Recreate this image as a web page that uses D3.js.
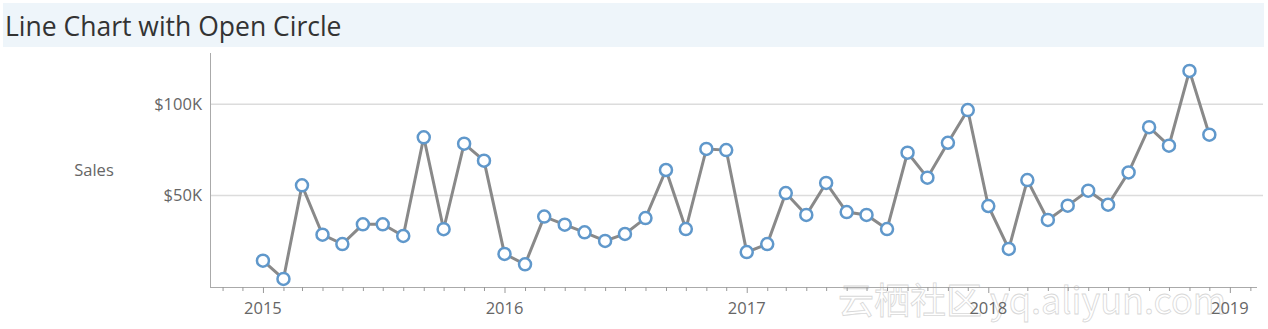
<!DOCTYPE html>
<html>
<head>
  <meta charset="utf-8">
  <title>Line Chart with Open Circle</title>
  <style>
    body { margin: 0; background: #fff; }
    svg { display: block; font-family: "Open Sans", "Noto Sans", sans-serif; }
  </style>
</head>
<body>
  <svg width="1268" height="329"></svg>
  <script src="https://d3js.org/d3.v7.min.js"></script>
  <script>
    // monthly sales, in thousands of dollars
    var years = [2015, 2016, 2017, 2018];
    var sales2015 = [14.4, 4.4, 55.6, 28.6, 23.5, 34.3, 34.3, 27.9, 81.9, 31.6, 78.4, 69.1];
    var sales2016 = [18.1, 12.4, 38.5, 34.1, 29.9, 25.2, 29.0, 37.7, 64.0, 31.7, 75.5, 74.9];
    var sales2017 = [19.1, 23.5, 51.4, 39.4, 56.9, 41.0, 39.4, 31.7, 73.5, 59.8, 78.9, 96.8];
    var sales2018 = [44.3, 20.8, 58.5, 36.7, 44.5, 52.7, 45.0, 62.7, 87.4, 77.3, 118.2, 83.3];
    var yTicks = [50000, 100000];
    var xYearTicks = [2015, 2016, 2017, 2018, 2019];

    var data = [];
    [sales2015, sales2016, sales2017, sales2018].forEach(function (arr, yi) {
      arr.forEach(function (v, m) {
        data.push({ date: new Date(years[yi], m, 1), value: v * 1000 });
      });
    });

    var svg = d3.select("svg");

    // title band
    svg.append("rect")
      .attr("x", 3).attr("y", 3)
      .attr("width", 1261).attr("height", 44)
      .attr("fill", "#eef5fa");
    svg.append("text")
      .attr("x", 5).attr("y", 36)
      .attr("font-size", 26.5)
      .attr("fill", "#333")
      .text("Line Chart with Open Circle");

    var x = d3.scaleTime()
      .domain([new Date(2014, 9, 13), new Date(2019, 1, 8)])
      .range([210, 1255]);
    var y = d3.scaleLinear()
      .domain([0, 128000])
      .range([287, 53]);

    // watermark (behind everything else)
    svg.append("text")
      .attr("x", 838).attr("y", 314)
      .attr("font-size", 36)
      .attr("fill", "#fff")
      .attr("fill-opacity", 0.85)
      .attr("stroke", "#d8d8d8")
      .attr("stroke-width", 0.8)
      .attr("font-family", "'Noto Sans CJK SC', sans-serif")
      .text("云栖社区 yq.aliyun.com");

    // gridlines
    svg.append("g")
      .selectAll("line")
      .data(yTicks)
      .enter()
      .append("line")
      .attr("x1", 210).attr("x2", 1263)
      .attr("y1", function (d) { return y(d); })
      .attr("y2", function (d) { return y(d); })
      .attr("stroke", "#dcdcdc")
      .attr("stroke-width", 1.5);

    // y axis labels
    svg.append("g")
      .selectAll("text")
      .data(yTicks)
      .enter()
      .append("text")
      .attr("x", 202)
      .attr("y", function (d) { return y(d); })
      .attr("dy", "0.35em")
      .attr("text-anchor", "end")
      .attr("font-size", 16.5)
      .attr("fill", "#666")
      .text(function (d) { return "$" + d / 1000 + "K"; });

    svg.append("text")
      .attr("x", 94).attr("y", 170)
      .attr("dy", "0.35em")
      .attr("text-anchor", "middle")
      .attr("font-size", 16.5)
      .attr("fill", "#666")
      .text("Sales");

    // y axis line
    svg.append("line")
      .attr("x1", 210.5).attr("x2", 210.5)
      .attr("y1", 53).attr("y2", 287)
      .attr("stroke", "#aaa");

    // x axis: monthly minor ticks + year labels
    var xAxis = d3.axisBottom(x)
      .ticks(d3.timeMonth.every(1))
      .tickSize(4)
      .tickFormat("");
    var gx = svg.append("g")
      .attr("transform", "translate(0,287)")
      .call(xAxis);
    gx.select(".domain").attr("stroke", "#aaa").attr("d", "M210,0.5H1257");
    gx.selectAll(".tick line").attr("stroke", "#999");
    gx.selectAll(".tick")
      .filter(function (d) { return d.getMonth() === 0; })
      .select("line").attr("y2", 6);

    svg.append("g")
      .selectAll("text")
      .data(xYearTicks)
      .enter()
      .append("text")
      .attr("x", function (d) { return x(new Date(d, 0, 1)); })
      .attr("y", 314)
      .attr("text-anchor", "middle")
      .attr("font-size", 16.5)
      .attr("fill", "#666")
      .text(function (d) { return d; });

    // line
    var line = d3.line()
      .x(function (d) { return x(d.date); })
      .y(function (d) { return y(d.value); });
    svg.append("path")
      .datum(data)
      .attr("d", line)
      .attr("fill", "none")
      .attr("stroke", "#898989")
      .attr("stroke-width", 3);

    // open circles
    svg.append("g")
      .selectAll("circle")
      .data(data)
      .enter()
      .append("circle")
      .attr("cx", function (d) { return x(d.date); })
      .attr("cy", function (d) { return y(d.value); })
      .attr("r", 6)
      .attr("fill", "#fff")
      .attr("stroke", "#6098cb")
      .attr("stroke-width", 2.5);
  </script>
</body>
</html>
